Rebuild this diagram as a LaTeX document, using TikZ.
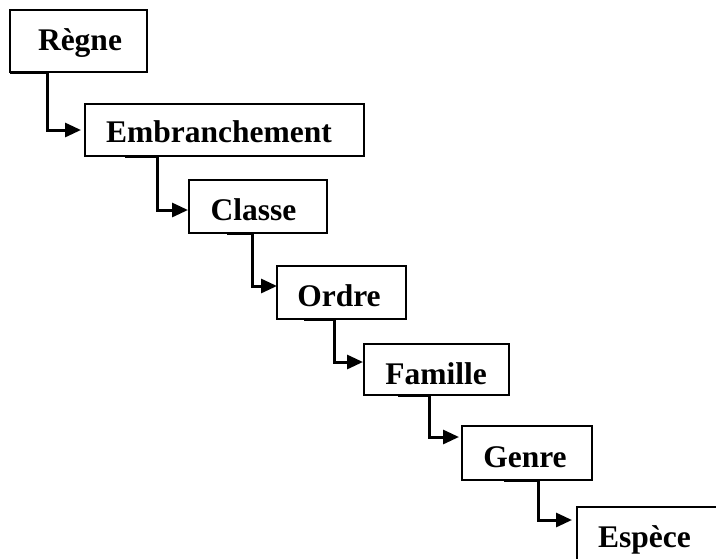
\documentclass[tikz,border=0pt]{standalone}
\usepackage{fontspec}
\setmainfont{Liberation Serif}
\usetikzlibrary{arrows.meta}
\begin{document}
\begin{tikzpicture}[x=1pt,y=-1pt,
  box/.style={draw=black, line width=1.2pt, rectangle, inner sep=0pt, outer sep=0pt},
  lbl/.style={anchor=base, inner sep=0pt, font=\fontsize{31.5}{36}\selectfont\bfseries},
  conn/.style={line width=3pt, -{Triangle[length=16pt,width=14pt]}}]
\useasboundingbox (0,0) rectangle (716,558);
\clip (0,0) rectangle (716,558);
% boxes
\node[box, minimum width=137pt, minimum height=62pt] (regne) at (78.5,41) {};
\node[box, minimum width=279pt, minimum height=52pt] (embr) at (224.5,130) {};
\node[box, minimum width=138pt, minimum height=53pt] (classe) at (258,206.5) {};
\node[box, minimum width=129pt, minimum height=53pt] (ordre) at (341.5,292.5) {};
\node[box, minimum width=145pt, minimum height=51pt] (famille) at (436.5,369.5) {};
\node[box, minimum width=130pt, minimum height=54pt] (genre) at (527,453) {};
\node[box, minimum width=153pt, minimum height=70pt] (espece) at (653.5,542) {};
% labels
\node[lbl] (tregne) at (80,50) {Règne};
\node[lbl] (tembr) at (219,142) {Embranchement};
\node[lbl] (tclasse) at (253.5,220) {Classe};
\node[lbl] (tordre) at (339,306) {Ordre};
\node[lbl] (tfamille) at (436,384) {Famille};
\node[lbl] (tgenre) at (525,467) {Genre};
\node[lbl] (tespece) at (644.5,547) {Espèce};
% connector start and end points
\coordinate (s1) at (10,72);   \coordinate (e1) at (81,130);
\coordinate (s2) at (125,156); \coordinate (e2) at (188,210);
\coordinate (s3) at (227,233); \coordinate (e3) at (277,286);
\coordinate (s4) at (304,319); \coordinate (e4) at (363,362);
\coordinate (s5) at (398,395); \coordinate (e5) at (459,437);
\coordinate (s6) at (504,480); \coordinate (e6) at (572,520);
% connectors
\draw[conn] (s1) -- ++(37,0) |- (e1);
\draw[conn] (s2) -- ++(32,0) |- (e2);
\draw[conn] (s3) -- ++(25,0) |- (e3);
\draw[conn] (s4) -- ++(30,0) |- (e4);
\draw[conn] (s5) -- ++(31,0) |- (e5);
\draw[conn] (s6) -- ++(34,0) |- (e6);
\end{tikzpicture}
\end{document}
